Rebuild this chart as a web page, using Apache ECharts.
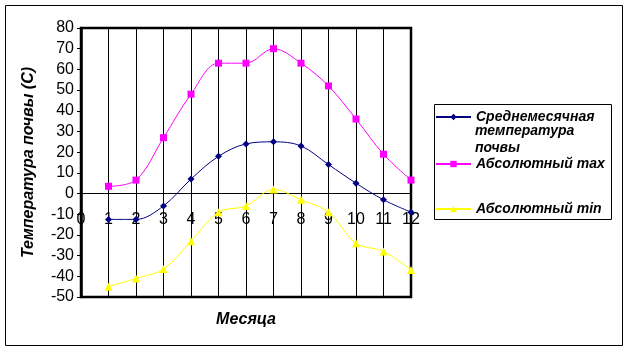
<!DOCTYPE html>
<html>
<head>
<meta charset="utf-8">
<script src="https://cdn.jsdelivr.net/npm/echarts@6/dist/echarts.min.js"></script>
<style>
  html, body { margin: 0; padding: 0; background: #fff; }
  #chart { width: 630px; height: 352px; }
</style>
</head>
<body>
<div id="chart"></div>
<script>
const months = [1, 2, 3, 4, 5, 6, 7, 8, 9, 10, 11, 12];
const meanTemp = [-12.5, -12.5, -6, 7, 18, 24, 25, 23, 14, 5, -3, -9];
const absMax = [3.5, 6.5, 27, 48, 63, 63, 70, 63, 52, 36, 19, 6.5];
const absMin = [-45, -41, -36.5, -23, -9, -6, 2, -3, -9, -24, -28, -37];

const names = ['Среднемесячная температура почвы', 'Абсолютный max', 'Абсолютный min'];
const font = 'Arial, "Liberation Sans", sans-serif';

const pairs = arr => months.map((m, i) => [m, arr[i]]);

const legendText = {
  color: '#000', fontSize: 14, fontWeight: 'bold', fontStyle: 'italic', fontFamily: font
};
function legendAt(name, top, label) {
  return {
    data: [name], orient: 'vertical', left: 435, top: top,
    itemWidth: 35, itemHeight: 8, padding: 0,
    textStyle: legendText,
    formatter: () => label
  };
}

const chart = echarts.init(document.getElementById('chart'));
chart.setOption({
  animation: false,
  grid: {
    left: 81, top: 28, right: 219, bottom: 55,
    outerBoundsMode: 'none', containLabel: false,
    show: true, borderColor: '#000', borderWidth: 2.5, backgroundColor: 'transparent'
  },
  xAxis: {
    type: 'value', min: 0, max: 12, interval: 1,
    name: 'Месяца', nameLocation: 'middle', nameGap: 15,
    nameTextStyle: { color: '#000', fontSize: 16, fontWeight: 'bold', fontStyle: 'italic', fontFamily: font },
    axisLine: { onZero: true, lineStyle: { color: '#000', width: 1 } },
    axisTick: { show: false },
    axisLabel: { color: '#000', fontSize: 16, fontFamily: font, margin: -85,
      showMinLabel: true, showMaxLabel: true },
    splitLine: { show: true, lineStyle: { color: '#000', width: 1 } }
  },
  yAxis: {
    type: 'value', min: -50, max: 80, interval: 10,
    name: 'Температура почвы (С)', nameLocation: 'middle', nameGap: 44, nameRotate: 90,
    nameTextStyle: { color: '#000', fontSize: 16, fontWeight: 'bold', fontStyle: 'italic', fontFamily: font },
    axisLine: { show: true, onZero: false, lineStyle: { color: '#000', width: 2.5 } },
    axisTick: { show: true, length: 4, lineStyle: { color: '#000' } },
    axisLabel: { color: '#000', fontSize: 16, fontFamily: font, margin: 7 },
    splitLine: { show: false }
  },
  legend: [
    legendAt(names[0], 110, 'Среднемесячная'),
    legendAt(names[1], 157, names[1]),
    legendAt(names[2], 202, names[2])
  ],
  graphic: [
    { type: 'rect', shape: { x: 5.5, y: 5.5, width: 617, height: 340 },
      style: { fill: 'none', stroke: '#000', lineWidth: 1 }, silent: true },
    { type: 'rect', shape: { x: 434.5, y: 104.5, width: 177, height: 115 },
      style: { fill: 'none', stroke: '#000', lineWidth: 1 }, silent: true },
    { type: 'text', left: 475, top: 123,
      style: { text: 'температура\nпочвы', fill: '#000', font: 'italic bold 14px ' + font, lineHeight: 17 } }
  ],
  series: [
    { name: names[0], type: 'line', data: pairs(meanTemp), smooth: 0.35,
      symbol: 'diamond', symbolSize: 7, color: '#000080',
      lineStyle: { width: 1, color: '#000080' } },
    { name: names[1], type: 'line', data: pairs(absMax), smooth: 0.35,
      symbol: 'rect', symbolSize: 7, color: '#FF00FF',
      lineStyle: { width: 1, color: '#FF00FF' } },
    { name: names[2], type: 'line', data: pairs(absMin), smooth: 0.35,
      symbol: 'triangle', symbolSize: 8, color: '#FFFF00',
      lineStyle: { width: 1, color: '#FFFF00' } }
  ]
});
</script>
</body>
</html>
